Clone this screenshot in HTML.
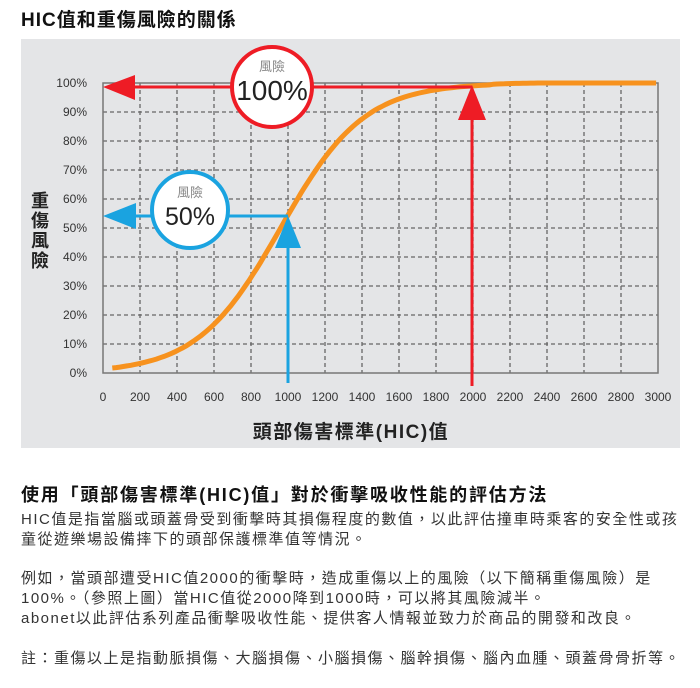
<!DOCTYPE html>
<html><head><meta charset="utf-8"><style>
body{margin:0;width:700px;height:688px;background:#fff;font-family:"Liberation Sans","Noto Sans CJK TC",sans-serif;position:relative;overflow:hidden;color:#222}
.t{position:absolute;white-space:nowrap}
</style></head><body>
<div class="t" style="left:21px;top:5px;font-size:19px;font-weight:bold;color:#111;letter-spacing:1px">HIC值和重傷風險的關係</div>
<svg style="position:absolute;left:0;top:0" width="700" height="460">
<rect x="21" y="39" width="659" height="409" fill="#e4e5e7"/>
<g stroke="#666" stroke-width="1.3" stroke-dasharray="4,3">
<line x1="103" y1="112" x2="658" y2="112"/><line x1="103" y1="141" x2="658" y2="141"/><line x1="103" y1="170" x2="658" y2="170"/><line x1="103" y1="199" x2="658" y2="199"/><line x1="103" y1="228" x2="658" y2="228"/><line x1="103" y1="257" x2="658" y2="257"/><line x1="103" y1="286" x2="658" y2="286"/><line x1="103" y1="315" x2="658" y2="315"/><line x1="103" y1="344" x2="658" y2="344"/>
<line x1="140" y1="83" x2="140" y2="373"/><line x1="177" y1="83" x2="177" y2="373"/><line x1="214" y1="83" x2="214" y2="373"/><line x1="251" y1="83" x2="251" y2="373"/><line x1="288" y1="83" x2="288" y2="373"/><line x1="325" y1="83" x2="325" y2="373"/><line x1="362" y1="83" x2="362" y2="373"/><line x1="399" y1="83" x2="399" y2="373"/><line x1="436" y1="83" x2="436" y2="373"/><line x1="473" y1="83" x2="473" y2="373"/><line x1="510" y1="83" x2="510" y2="373"/><line x1="547" y1="83" x2="547" y2="373"/><line x1="584" y1="83" x2="584" y2="373"/><line x1="621" y1="83" x2="621" y2="373"/>
</g>
<rect x="103" y="83" width="555" height="290" fill="none" stroke="#777" stroke-width="1.5"/>
<g font-size="12" fill="#333" text-anchor="end">
<text x="87" y="87">100%</text><text x="87" y="116">90%</text><text x="87" y="145">80%</text><text x="87" y="174">70%</text><text x="87" y="203">60%</text><text x="87" y="232">50%</text><text x="87" y="261">40%</text><text x="87" y="290">30%</text><text x="87" y="319">20%</text><text x="87" y="348">10%</text><text x="87" y="377">0%</text>
</g>
<g font-size="12" fill="#333" text-anchor="middle">
<text x="103" y="401">0</text><text x="140" y="401">200</text><text x="177" y="401">400</text><text x="214" y="401">600</text><text x="251" y="401">800</text><text x="288" y="401">1000</text><text x="325" y="401">1200</text><text x="362" y="401">1400</text><text x="399" y="401">1600</text><text x="436" y="401">1800</text><text x="473" y="401">2000</text><text x="510" y="401">2200</text><text x="547" y="401">2400</text><text x="584" y="401">2600</text><text x="621" y="401">2800</text><text x="658" y="401">3000</text>
</g>
<text x="351" y="438" font-size="19" font-weight="bold" text-anchor="middle" fill="#222" letter-spacing="1.5">頭部傷害標準(HIC)值</text>
<g font-size="18" font-weight="bold" fill="#222" text-anchor="middle">
<text x="40" y="207">重</text><text x="40" y="227">傷</text><text x="40" y="247">風</text><text x="40" y="267">險</text>
</g>
<path id="c" fill="none" stroke="#f7921e" stroke-width="5" d=""/>
<line x1="288" y1="230" x2="288" y2="383" stroke="#1aa3e0" stroke-width="3"/>
<polygon points="288,216 275,248 301,248" fill="#1aa3e0"/>
<line x1="125" y1="216" x2="288" y2="216" stroke="#1aa3e0" stroke-width="3"/>
<polygon points="103,216 136,203 136,229" fill="#1aa3e0"/>
<circle cx="190" cy="210" r="38" fill="#fff" stroke="#1aa3e0" stroke-width="4"/>
<text x="190" y="197" font-size="13" fill="#888" text-anchor="middle">風險</text>
<text x="190" y="225" font-size="25" fill="#222" text-anchor="middle">50%</text>
<line x1="472" y1="100" x2="472" y2="386" stroke="#ee1c25" stroke-width="3"/>
<polygon points="472,85 458,120 486,120" fill="#ee1c25"/>
<line x1="125" y1="87" x2="472" y2="87" stroke="#ee1c25" stroke-width="3"/>
<polygon points="103,87 135,75 135,100" fill="#ee1c25"/>
<circle cx="272" cy="87" r="40" fill="#fff" stroke="#ee1c25" stroke-width="4"/>
<text x="272" y="71" font-size="13" fill="#888" text-anchor="middle">風險</text>
<text x="272" y="100" font-size="28" fill="#222" text-anchor="middle">100%</text>
</svg>
<script>
(function(){var d="";for(var v=50;v<=3000;v+=20){var p=1/(1+Math.exp(-(v-960)/225));if(v>=2100)p=Math.min(1,p+0.002);var x=103+v*555/3000,y=373-290*p;d+=(d?"L":"M")+x.toFixed(1)+","+y.toFixed(1);}document.getElementById("c").setAttribute("d",d);})();
</script>
<div class="t" style="left:21px;top:481px;font-size:18px;font-weight:bold;color:#111;letter-spacing:1.8px">使用「頭部傷害標準(HIC)值」對於衝擊吸收性能的評估方法</div>
<div class="t" style="left:21px;top:510px;font-size:15px;line-height:20px;color:#333;letter-spacing:1.5px">HIC值是指當腦或頭蓋骨受到衝擊時其損傷程度的數值，以此評估撞車時乘客的安全性或孩<br>童從遊樂場設備摔下的頭部保護標準值等情況。</div>
<div class="t" style="left:21px;top:569px;font-size:15px;line-height:20px;color:#333;letter-spacing:1.5px">例如，當頭部遭受HIC值2000的衝擊時，造成重傷以上的風險（以下簡稱重傷風險）是<br>100%。（參照上圖）當HIC值從2000降到1000時，可以將其風險減半。<br>abonet以此評估系列產品衝擊吸收性能、提供客人情報並致力於商品的開發和改良。</div>
<div class="t" style="left:21px;top:649px;font-size:15px;line-height:20px;color:#333;letter-spacing:1.5px">註：重傷以上是指動脈損傷、大腦損傷、小腦損傷、腦幹損傷、腦內血腫、頭蓋骨骨折等。</div>
</body></html>
